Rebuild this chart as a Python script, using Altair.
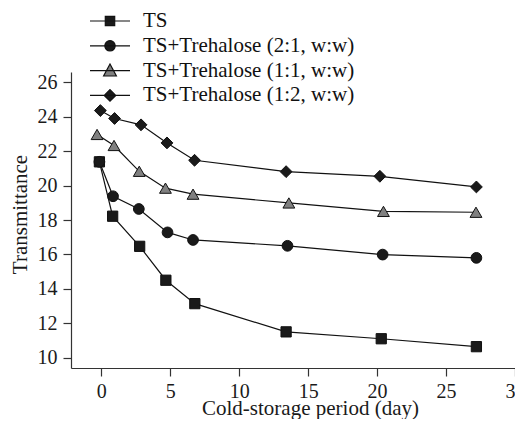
import altair as alt
import pandas as pd

series_names = [
    "TS",
    "TS+Trehalose (2:1, w:w)",
    "TS+Trehalose (1:1, w:w)",
    "TS+Trehalose (1:2, w:w)",
]

days_ts = [-0.14, 0.82, 2.78, 4.68, 6.78, 13.4, 20.3, 27.2]
vals_ts = [21.38, 18.22, 16.47, 14.5, 13.14, 11.5, 11.1, 10.64]

days_21 = [-0.14, 0.85, 2.72, 4.8, 6.65, 13.5, 20.4, 27.2]
vals_21 = [21.38, 19.38, 18.64, 17.28, 16.84, 16.5, 15.99, 15.8]

days_11 = [-0.31, 0.92, 2.75, 4.65, 6.65, 13.6, 20.46, 27.17]
vals_11 = [22.97, 22.33, 20.83, 19.85, 19.5, 18.99, 18.5, 18.45]

days_12 = [-0.07, 0.96, 2.88, 4.76, 6.76, 13.4, 20.2, 27.2]
vals_12 = [24.36, 23.9, 23.53, 22.48, 21.47, 20.81, 20.54, 19.92]

x_ticks = [0, 5, 10, 15, 20, 25, 30]
y_ticks = [10, 12, 14, 16, 18, 20, 22, 24, 26]

marker_shapes = ["square", "circle", "triangle-up", "diamond"]
marker_fills = ["#1a1a1a", "#1a1a1a", "#808080", "#1a1a1a"]
marker_sizes = [105, 115, 140, 140]
legend_paths = [
    "M-1,0H1M-0.235,-0.235H0.235V0.235H-0.235Z",
    "M-1,0H1M-0.26,0A0.26,0.26 0 1,0 0.26,0A0.26,0.26 0 1,0 -0.26,0Z",
    "M-1,0H1M0,-0.33L0.32,0.27H-0.32Z",
    "M-1,0H1M0,-0.29L0.29,0L0,0.29L-0.29,0Z",
]

rows = []
for name, ds, vs in zip(series_names, [days_ts, days_21, days_11, days_12],
                        [vals_ts, vals_21, vals_11, vals_12]):
    for d, v in zip(ds, vs):
        rows.append({"series": name, "day": d, "value": v})
df = pd.DataFrame(rows)

FONT = "Liberation Serif"
INK = "#111111"

x_enc = alt.X("day:Q", scale=alt.Scale(domain=[-2.2, 30.58], nice=False, zero=False),
              axis=alt.Axis(values=x_ticks, title="Cold-storage period (day)",
                            titleX=239, titleY=46.5, titleBaseline="alphabetic",
                            labelPadding=5, labelOverlap=False))
y_enc = alt.Y("value:Q", scale=alt.Scale(domain=[9.4, 26.6], nice=False, zero=False),
              axis=alt.Axis(values=y_ticks, tickCount=9, title="Transmittance",
                            titleX=-51, titleY=142, titleBaseline="middle",
                            labelPadding=6, labelOverlap=False))

base = alt.Chart(df).encode(x=x_enc, y=y_enc)

lines = base.mark_line(color=INK, strokeWidth=1.2).encode(detail="series:N")

point_layers = []
for name, shp, fil, sz in zip(series_names, marker_shapes, marker_fills, marker_sizes):
    point_layers.append(
        base.transform_filter(alt.datum.series == name).mark_point(
            filled=True, shape=shp, fill=fil, stroke=INK, strokeWidth=1, size=sz, opacity=1
        )
    )

leg = alt.Legend(title=None, orient="none", legendX=18, legendY=-61, padding=0,
                 symbolSize=1600, symbolStrokeWidth=1.2,
                 clipHeight=20, rowPadding=3.8, labelOffset=12,
                 labelFont=FONT, labelFontSize=21, labelColor=INK, labelLimit=400)

legend_layer = base.transform_filter("false").mark_point(
    filled=True, stroke=INK, strokeWidth=1.2, opacity=1
).encode(
    shape=alt.Shape("series:N", scale=alt.Scale(domain=series_names, range=legend_paths),
                    sort=series_names, legend=leg),
    fill=alt.Fill("series:N", scale=alt.Scale(domain=series_names, range=marker_fills),
                  sort=series_names, legend=leg),
)

chart = alt.layer(lines, *point_layers, legend_layer).properties(
    width=452, height=296,
    autosize=alt.AutoSizeParams(type="none"),
    padding={"left": 63, "top": 64, "right": -8, "bottom": 51},
).configure_view(stroke=None).configure_axis(
    grid=False, domainColor="#333333", tickColor="#333333", domainWidth=1.2, tickWidth=1.2,
    tickSize=8, labelFont=FONT, labelFontSize=20, labelColor="#1a1a1a", labelOverlap=False,
    titleFont=FONT, titleFontSize=21, titleFontWeight="normal", titleColor="#1a1a1a",
)

chart.save("out.html", embed_options={"renderer": "svg", "actions": False})
